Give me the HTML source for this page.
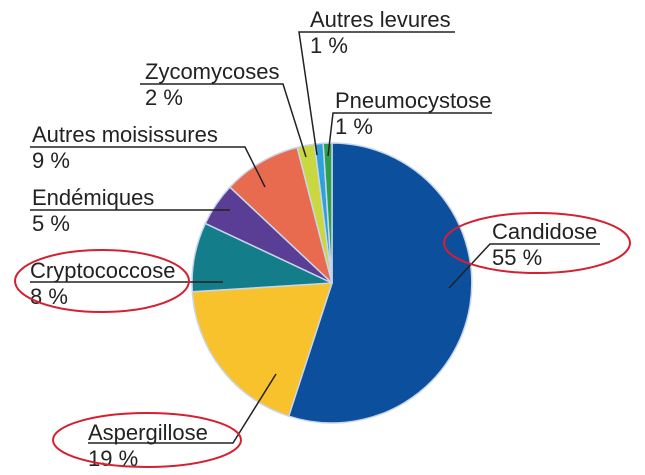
<!DOCTYPE html>
<html><head><meta charset="utf-8"><style>
html,body{margin:0;padding:0;background:#fff;}
svg{display:block;}
text{font-family:"Liberation Sans","DejaVu Sans",sans-serif;font-size:22px;fill:#222;}
</style></head><body>
<svg width="645" height="475" viewBox="0 0 645 475" xmlns="http://www.w3.org/2000/svg">
<g stroke="#c9d6ea" stroke-width="1.5" stroke-linejoin="round">
<path d="M332,283 L332,143 A140,140 0 1 1 288.7,416.2 Z" fill="#0b4f9d"/>
<path d="M332,283 L288.7,416.2 A140,140 0 0 1 192.3,291.8 Z" fill="#f8c22c"/>
<path d="M332,283 L192.3,291.8 A140,140 0 0 1 205.3,223.4 Z" fill="#137d8a"/>
<path d="M332,283 L205.3,223.4 A140,140 0 0 1 229.9,187.1 Z" fill="#5a3e95"/>
<path d="M332,283 L229.9,187.1 A140,140 0 0 1 297.2,147.4 Z" fill="#e86a4f"/>
<path d="M332,283 L297.2,147.4 A140,140 0 0 1 314.5,144.1 Z" fill="#c8d83e"/>
<path d="M332,283 L314.5,144.1 A140,140 0 0 1 323.2,143.3 Z" fill="#2ea2db"/>
<path d="M332,283 L323.2,143.3 A140,140 0 0 1 332,143 Z" fill="#2f9f4c"/>
</g>
<g stroke="#222" stroke-width="1.5" fill="none">
<polyline points="455,32 299,32 317,155"/>
<polyline points="492,113 333,113 328,156"/>
<polyline points="140,84 283,84 306,157"/>
<polyline points="30,147 245,147 265,187"/>
<polyline points="30,210 230,210"/>
<polyline points="30,282 223,282"/>
<polyline points="600,244 490,244 449,288"/>
<polyline points="88,443 233,443 276,374"/>
</g>
<text x="310" y="27">Autres levures</text>
<text x="310" y="53">1 %</text>
<text x="335" y="108">Pneumocystose</text>
<text x="335" y="134">1 %</text>
<text x="145" y="79">Zycomycoses</text>
<text x="145" y="105">2 %</text>
<text x="32" y="142">Autres moisissures</text>
<text x="32" y="168">9 %</text>
<text x="32" y="205">Endémiques</text>
<text x="32" y="231">5 %</text>
<text x="30" y="278">Cryptococcose</text>
<text x="30" y="304">8 %</text>
<text x="492" y="239">Candidose</text>
<text x="492" y="265">55 %</text>
<text x="88" y="440">Aspergillose</text>
<text x="88" y="466">19 %</text>
<g stroke="#d42030" stroke-width="2" fill="none">
<ellipse cx="102" cy="281" rx="87" ry="31"/>
<ellipse cx="537" cy="243" rx="93" ry="30"/>
<ellipse cx="147" cy="440" rx="94" ry="27"/>
</g>
</svg>
</body></html>
